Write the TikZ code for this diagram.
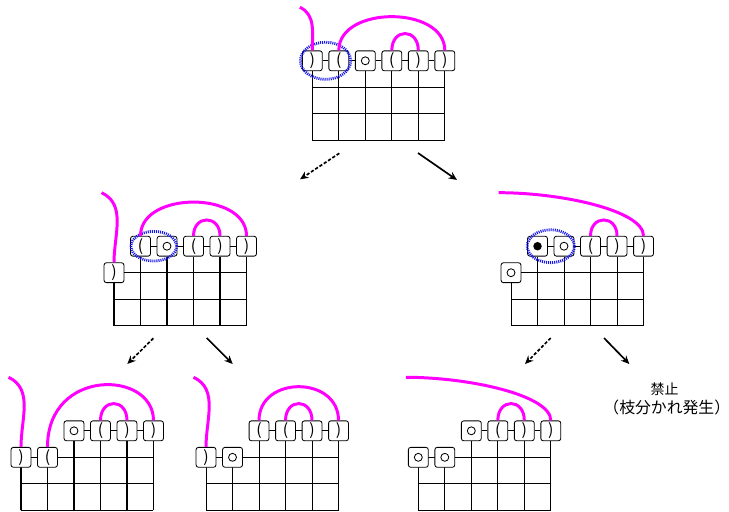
\documentclass[tikz,border=0pt]{standalone}
\usepackage{fontspec}
\newfontfamily\cjk{Noto Sans CJK JP}
\usetikzlibrary{arrows.meta}
\definecolor{arccol}{RGB}{255,0,255}
\definecolor{pickcol}{RGB}{20,20,235}

\begin{document}
\begin{tikzpicture}[
    wire/.style={line width=1.1pt},
    tile/.style={draw, fill=white, rounded corners=2.5pt, minimum size=0.75cm,
      inner sep=0pt, line width=0.9pt, font=\cjk\fontsize{17}{17}\selectfont},
    free/.style={tile, path picture={\draw[black, line width=0.9pt]
      (path picture bounding box.center) circle (0.15);}},
    used/.style={tile, path picture={\fill[black]
      (path picture bounding box.center) circle (0.16);}},
    bond/.style={arccol, line width=3.2pt},
    pick/.style={pickcol, line width=3pt, dash pattern=on 1.1pt off 1.1pt},
    move/.style={line width=1.8pt, -{Stealth[length=9pt, width=8pt]}}
  ]
  \useasboundingbox (0,0) rectangle (27.509,-19.283);

  % start state
  \begin{scope}[shift={(11.785,-3.294)}]
    \draw[wire] (0,-2) grid (5,0);
    \node[tile] (a0) at (0,1) {)};
    \node[tile] (a1) at (1,1) {(};
    \node[free] (a2) at (2,1) {};
    \node[tile] (a3) at (3,1) {(};
    \node[tile] (a4) at (4,1) {)};
    \node[tile] (a5) at (5,1) {)};
    \coordinate (ta) at (-0.47,3.02);
    \draw[wire] (a0) -- (a1) -- (a2) -- (a3) -- (a4) -- (a5);
    \draw[wire] (a0) -- (0,0) (a1) -- (1,0) (a2) -- (2,0)
      (a3) -- (3,0) (a4) -- (4,0) (a5) -- (5,0);
    \draw[pick] (0.5,1) ellipse [x radius=0.95, y radius=0.7];
    \draw[bond] (a0.north) to[out=90, in=-25] (ta);
    \draw[bond] (a1.north) .. controls +(0,1.7) and +(0,1.7) .. (a5.north);
    \draw[bond] (a3.north) .. controls +(0,0.85) and +(0,0.85) .. (a4.north);
  \end{scope}

  % left branch
  \begin{scope}[shift={(4.302,-10.291)}]
    \draw[wire] (0,-2) grid (5,0);
    \node[tile] (b0) at (0,0) {)};
    \node[tile] (b1) at (1,1) {(};
    \node[free] (b2) at (2,1) {};
    \node[tile] (b3) at (3,1) {(};
    \node[tile] (b4) at (4,1) {)};
    \node[tile] (b5) at (5,1) {)};
    \coordinate (tb) at (-0.47,3.02);
    \draw[wire] (b1) -- (b2) -- (b3) -- (b4) -- (b5);
    \draw[wire] (b1) -- (1,0) (b2) -- (2,0) (b3) -- (3,0)
      (b4) -- (4,0) (b5) -- (5,0);
    \draw[pick] (1.5,1) ellipse [x radius=0.86, y radius=0.56];
    \draw[bond] (b0.north) to[out=90, in=-25] (tb);
    \draw[bond] (b1.north) .. controls +(0,1.7) and +(0,1.7) .. (b5.north);
    \draw[bond] (b3.north) .. controls +(0,0.8) and +(0,0.8) .. (b4.north);
  \end{scope}

  % right branch
  \begin{scope}[shift={(19.283,-10.291)}]
    \draw[wire] (0,-2) grid (5,0);
    \node[free] (c0) at (0,0) {};
    \node[used] (c1) at (1,1) {};
    \node[free] (c2) at (2,1) {};
    \node[tile] (c3) at (3,1) {(};
    \node[tile] (c4) at (4,1) {)};
    \node[tile] (c5) at (5,1) {)};
    \coordinate (tc) at (-0.47,3.02);
    \draw[wire] (c1) -- (c2) -- (c3) -- (c4) -- (c5);
    \draw[wire] (c1) -- (1,0) (c2) -- (2,0) (c3) -- (3,0)
      (c4) -- (4,0) (c5) -- (5,0);
    \draw[pick] (1.5,1) ellipse [x radius=0.89, y radius=0.62];
    \draw[bond] (c5.north) .. controls +(0,0.95) and +(2.4,0) .. (tc);
    \draw[bond] (c3.north) .. controls +(0,0.8) and +(0,0.8) .. (c4.north);
  \end{scope}

  % after the left branch
  \begin{scope}[shift={(0.792,-17.257)}]
    \draw[wire] (0,-2) grid (5,0);
    \node[tile] (d0) at (0,0) {)};
    \node[tile] (d1) at (1,0) {(};
    \node[free] (d2) at (2,1) {};
    \node[tile] (d3) at (3,1) {(};
    \node[tile] (d4) at (4,1) {)};
    \node[tile] (d5) at (5,1) {)};
    \coordinate (td) at (-0.47,3.02);
    \draw[wire] (d2) -- (d3) -- (d4) -- (d5);
    \draw[wire] (d2) -- (2,0) (d3) -- (3,0) (d4) -- (4,0) (d5) -- (5,0);
    \draw[bond] (d0.north) to[out=90, in=-25] (td);
    \draw[bond] (d1.north) .. controls +(0,3.0) and +(0,1.9) .. (d5.north);
    \draw[bond] (d3.north) .. controls +(0,0.85) and +(0,0.85) .. (d4.north);
  \end{scope}

  \begin{scope}[shift={(7.774,-17.257)}]
    \draw[wire] (0,-2) grid (5,0);
    \node[tile] (e0) at (0,0) {)};
    \node[free] (e1) at (1,0) {};
    \node[tile] (e2) at (2,1) {(};
    \node[tile] (e3) at (3,1) {(};
    \node[tile] (e4) at (4,1) {)};
    \node[tile] (e5) at (5,1) {)};
    \coordinate (te) at (-0.47,3.02);
    \draw[wire] (e2) -- (e3) -- (e4) -- (e5);
    \draw[wire] (e2) -- (2,0) (e3) -- (3,0) (e4) -- (4,0) (e5) -- (5,0);
    \draw[bond] (e0.north) to[out=90, in=-25] (te);
    \draw[bond] (e2.north) .. controls +(0,1.7) and +(0,1.7) .. (e5.north);
    \draw[bond] (e3.north) .. controls +(0,0.85) and +(0,0.85) .. (e4.north);
  \end{scope}

  % after the right branch
  \begin{scope}[shift={(15.785,-17.257)}]
    \draw[wire] (0,-2) grid (5,0);
    \node[free] (f0) at (0,0) {};
    \node[free] (f1) at (1,0) {};
    \node[free] (f2) at (2,1) {};
    \node[tile] (f3) at (3,1) {(};
    \node[tile] (f4) at (4,1) {)};
    \node[tile] (f5) at (5,1) {)};
    \coordinate (tf) at (-0.47,3.02);
    \draw[wire] (f2) -- (f3) -- (f4) -- (f5);
    \draw[wire] (f2) -- (2,0) (f3) -- (3,0) (f4) -- (4,0) (f5) -- (5,0);
    \draw[bond] (f5.north) .. controls +(0,0.95) and +(2.4,0) .. (tf);
    \draw[bond] (f3.north) .. controls +(0,0.85) and +(0,0.85) .. (f4.north);
  \end{scope}

  \node[font=\cjk\fontsize{15}{15}\selectfont] (ban) at (25.08,-14.68) {禁止};
  \node[font=\cjk\fontsize{17}{17}\selectfont] (why) at (25.16,-15.38) {（枝分かれ発生）};

  % moves between states
  \coordinate (m1) at (12.804,-5.785);  \coordinate (n1) at (11.321,-6.766);
  \coordinate (m2) at (15.774,-5.774);  \coordinate (n2) at (17.245,-6.792);
  \coordinate (m3) at (5.785,-12.766);  \coordinate (n3) at (4.804,-13.736);
  \coordinate (m4) at (7.8,-12.755);    \coordinate (n4) at (8.781,-13.736);
  \coordinate (m5) at (20.781,-12.755); \coordinate (n5) at (19.811,-13.736);
  \coordinate (m6) at (22.792,-12.755); \coordinate (n6) at (23.747,-13.736);

  \draw[move, dash pattern=on 3.5pt off 2pt] (m1) -- (n1);
  \draw[move] (m2) -- (n2);
  \draw[move, dash pattern=on 3.5pt off 2pt] (m3) -- (n3);
  \draw[move] (m4) -- (n4);
  \draw[move, dash pattern=on 3.5pt off 2pt] (m5) -- (n5);
  \draw[move] (m6) -- (n6);

\end{tikzpicture}
\end{document}
